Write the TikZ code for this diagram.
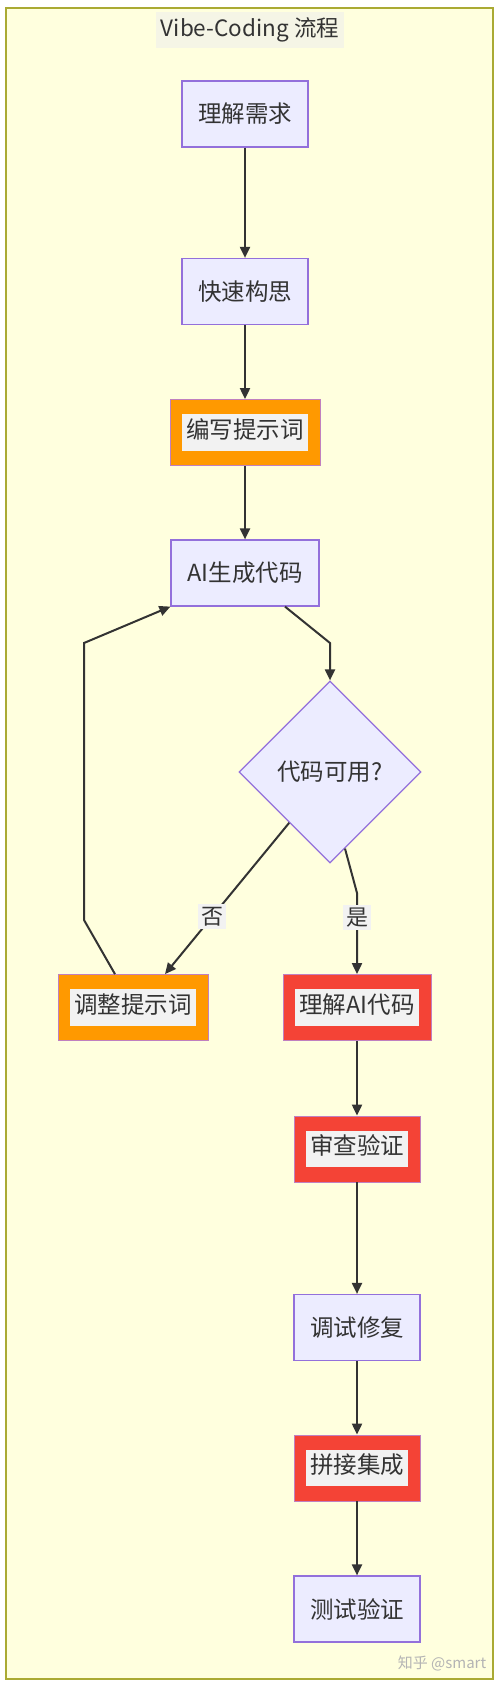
\documentclass[tikz,border=0pt]{standalone}
\usepackage{fontspec}
\setmainfont{Noto Sans CJK SC}
\usepackage{xcolor}
\usepackage{tikz}
\usetikzlibrary{positioning,shapes.geometric,arrows.meta}

\definecolor{clusterfill}{HTML}{FFFFDE}
\definecolor{clusterline}{HTML}{AAAA33}
\definecolor{stepfill}{HTML}{ECECFF}
\definecolor{stepline}{HTML}{9370DB}
\definecolor{promptfill}{HTML}{FF9900}
\definecolor{checkfill}{HTML}{F44336}
\definecolor{hotline}{HTML}{C080C0}
\definecolor{labelbg}{HTML}{F2F2F2}
\definecolor{titlebg}{HTML}{F5F5E6}
\definecolor{inkgrey}{HTML}{333333}
\definecolor{markgrey}{HTML}{B4B4B4}

\newcommand{\hotlabel}[1]{{\fboxsep=4pt\colorbox{labelbg}{\strut #1}}}

\tikzset{
  frame/.style={draw=clusterline, fill=clusterfill, line width=2pt},
  titlebox/.style={fill=titlebg, text=inkgrey, inner xsep=5pt, minimum height=36pt,
    font=\fontsize{22.5}{27}\selectfont},
  stepbox/.style={draw=stepline, fill=stepfill, line width=1.2pt, text=inkgrey,
    minimum width=126pt, minimum height=66pt, inner sep=0pt,
    font=\fontsize{23.5}{28}\selectfont},
  promptbox/.style={stepbox, draw=hotline, fill=promptfill, line width=0.8pt},
  checkbox/.style={stepbox, draw=hotline, fill=checkfill, line width=0.8pt},
  choicebox/.style={diamond, aspect=1, draw=stepline, fill=stepfill, line width=1.2pt,
    text=inkgrey, minimum width=182pt, minimum height=182pt, inner sep=0pt,
    font=\fontsize{23.5}{28}\selectfont},
  flow/.style={draw=inkgrey, line width=2pt, -{Triangle[length=11pt,width=10pt]}},
  edgelabel/.style={fill=labelbg, text=inkgrey, inner sep=3pt,
    font=\fontsize{22}{26}\selectfont},
  watermark/.style={text=markgrey, font=\fontsize{15}{18}\selectfont}
}

\begin{document}
\begin{tikzpicture}[x=1pt, y=-1pt]
    \useasboundingbox (0,0) rectangle (500,1685);

    \coordinate (FrameNW) at (6,8);
    \coordinate (FrameSE) at (493,1679);
    \coordinate (T) at (250,30);

    \coordinate (S1) at (245,114);
    \coordinate (S2) at (245,291.5);
    \coordinate (S3) at (245,432.5);
    \coordinate (S4) at (245,573);
    \coordinate (D1) at (330,772);
    \coordinate (S5) at (133,1007.5);
    \coordinate (S6) at (357,1007.5);
    \coordinate (S7) at (357,1149);
    \coordinate (S8) at (357,1327.5);
    \coordinate (S9) at (357,1468);
    \coordinate (S10) at (357,1609);

    \coordinate (S4D1) at (330,643);
    \coordinate (D1S6) at (357,893);
    \coordinate (S5S4a) at (84,920);
    \coordinate (S5S4b) at (84,643);

    \coordinate (W) at (442,1663);

    \draw [frame] (FrameNW) rectangle (FrameSE);
    \node [titlebox] (title) at (T) {Vibe-Coding 流程};

    \node [stepbox] (n1) at (S1) {理解需求};
    \node [stepbox] (n2) at (S2) {快速构思};
    \node [promptbox, minimum width=150pt] (n3) at (S3) {\hotlabel{编写提示词}};
    \node [stepbox, minimum width=148pt] (n4) at (S4) {AI生成代码};
    \node [choicebox] (d1) at (D1) {代码可用?};
    \node [promptbox, minimum width=150pt] (n5) at (S5) {\hotlabel{调整提示词}};
    \node [checkbox, minimum width=148pt] (n6) at (S6) {\hotlabel{理解AI代码}};
    \node [checkbox] (n7) at (S7) {\hotlabel{审查验证}};
    \node [stepbox] (n8) at (S8) {调试修复};
    \node [checkbox] (n9) at (S9) {\hotlabel{拼接集成}};
    \node [stepbox] (n10) at (S10) {测试验证};

    \draw [flow] (n1) to (n2);
    \draw [flow] (n2) to (n3);
    \draw [flow] (n3) to (n4);
    \draw [flow] ([xshift=40pt]n4.south) -- (S4D1) -- (d1.north);

    \draw [flow] ([xshift=5pt, yshift=-5pt]d1.south west) -- ([xshift=32pt]n5.north)
      node [edgelabel, pos=0.62] (no) {否};
    \draw [flow] ([xshift=15pt, yshift=15pt]d1.south) -- (D1S6) -- (n6.north)
      node [edgelabel, pos=0.3] (yes) {是};

    \draw [flow] ([xshift=-18pt]n5.north) -- (S5S4a) -- (S5S4b) -- (n4.south west);

    \draw [flow] (n6) to (n7);
    \draw [flow] (n7) to (n8);
    \draw [flow] (n8) to (n9);
    \draw [flow] (n9) to (n10);

    \node [watermark] (mark) at (W) {知乎 @smart};
  \end{tikzpicture}
\end{document}
